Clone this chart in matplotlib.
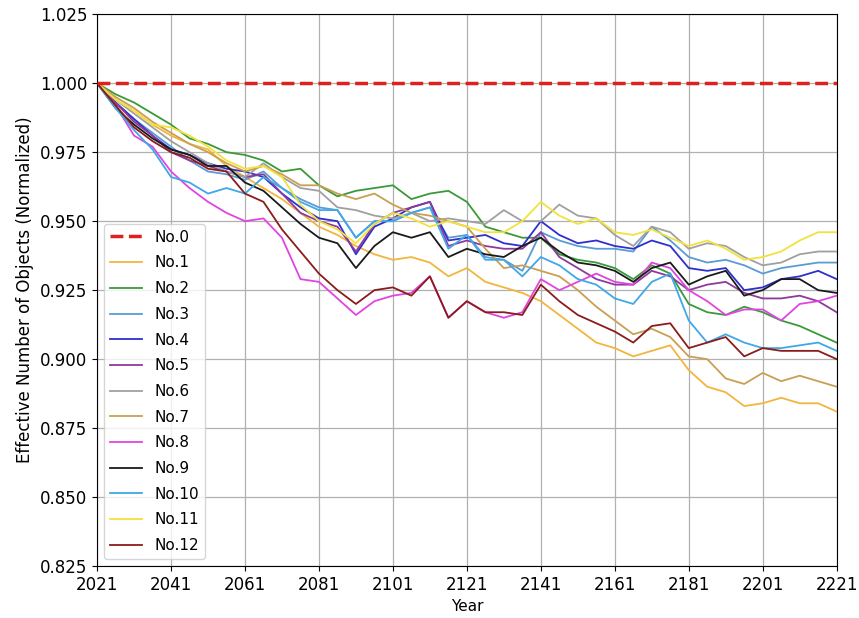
import numpy as np
import matplotlib.pyplot as plt
import matplotlib.ticker as mticker

years = list(range(2021, 2222, 5))

no0 = [1.0] * len(years)
no1 = [1.000, 0.994, 0.990, 0.985, 0.981, 0.978, 0.976, 0.970, 0.966, 0.962, 0.958, 0.953, 0.948, 0.945,
       0.941, 0.938, 0.936, 0.937, 0.935, 0.930, 0.933, 0.928, 0.926, 0.924, 0.921, 0.916, 0.911, 0.906,
       0.904, 0.901, 0.903, 0.905, 0.896, 0.890, 0.888, 0.883, 0.884, 0.886, 0.884, 0.884, 0.881]
no2 = [1.000, 0.996, 0.993, 0.989, 0.985, 0.980, 0.978, 0.975, 0.974, 0.972, 0.968, 0.969, 0.963, 0.959,
       0.961, 0.962, 0.963, 0.958, 0.960, 0.961, 0.957, 0.948, 0.946, 0.944, 0.944, 0.938, 0.936, 0.935,
       0.933, 0.929, 0.934, 0.931, 0.920, 0.917, 0.916, 0.919, 0.917, 0.914, 0.912, 0.909, 0.906]
no3 = [1.000, 0.993, 0.987, 0.982, 0.977, 0.972, 0.968, 0.967, 0.965, 0.968, 0.962, 0.958, 0.955, 0.954,
       0.944, 0.950, 0.950, 0.953, 0.955, 0.944, 0.945, 0.937, 0.936, 0.932, 0.946, 0.943, 0.941, 0.940,
       0.940, 0.939, 0.948, 0.943, 0.937, 0.935, 0.936, 0.934, 0.931, 0.933, 0.934, 0.935, 0.935]
no4 = [1.000, 0.993, 0.987, 0.981, 0.976, 0.974, 0.971, 0.969, 0.968, 0.966, 0.960, 0.955, 0.951, 0.950,
       0.938, 0.948, 0.951, 0.955, 0.957, 0.943, 0.944, 0.945, 0.942, 0.941, 0.950, 0.945, 0.942, 0.943,
       0.941, 0.940, 0.943, 0.941, 0.933, 0.932, 0.933, 0.925, 0.926, 0.929, 0.930, 0.932, 0.929]
no5 = [1.000, 0.993, 0.986, 0.981, 0.975, 0.972, 0.970, 0.968, 0.966, 0.967, 0.960, 0.953, 0.950, 0.948,
       0.939, 0.949, 0.953, 0.955, 0.957, 0.941, 0.943, 0.941, 0.940, 0.940, 0.946, 0.937, 0.933, 0.929,
       0.927, 0.927, 0.932, 0.930, 0.925, 0.927, 0.928, 0.924, 0.922, 0.922, 0.923, 0.921, 0.917]
no6 = [1.000, 0.994, 0.989, 0.984, 0.979, 0.975, 0.971, 0.968, 0.966, 0.971, 0.966, 0.962, 0.961, 0.955,
       0.954, 0.952, 0.951, 0.953, 0.950, 0.951, 0.950, 0.949, 0.954, 0.950, 0.950, 0.956, 0.952, 0.951,
       0.945, 0.941, 0.948, 0.946, 0.940, 0.942, 0.941, 0.937, 0.934, 0.935, 0.938, 0.939, 0.939]
no7 = [1.000, 0.995, 0.991, 0.986, 0.982, 0.978, 0.975, 0.971, 0.968, 0.970, 0.967, 0.963, 0.963, 0.960,
       0.958, 0.960, 0.956, 0.953, 0.952, 0.950, 0.948, 0.940, 0.933, 0.934, 0.932, 0.930, 0.925, 0.919,
       0.914, 0.909, 0.911, 0.908, 0.901, 0.900, 0.893, 0.891, 0.895, 0.892, 0.894, 0.892, 0.890]
no8 = [1.000, 0.992, 0.981, 0.977, 0.968, 0.962, 0.957, 0.953, 0.950, 0.951, 0.944, 0.929, 0.928, 0.922,
       0.916, 0.921, 0.923, 0.924, 0.930, 0.915, 0.921, 0.917, 0.915, 0.917, 0.929, 0.925, 0.928, 0.931,
       0.928, 0.927, 0.935, 0.933, 0.925, 0.921, 0.916, 0.918, 0.918, 0.914, 0.920, 0.921, 0.923]
no9 = [1.000, 0.991, 0.985, 0.980, 0.976, 0.974, 0.970, 0.970, 0.964, 0.961, 0.955, 0.949, 0.944, 0.942,
       0.933, 0.941, 0.946, 0.944, 0.946, 0.937, 0.940, 0.938, 0.937, 0.941, 0.944, 0.939, 0.935, 0.934,
       0.932, 0.928, 0.933, 0.935, 0.927, 0.930, 0.932, 0.923, 0.925, 0.929, 0.929, 0.925, 0.924]
no10 = [1.000, 0.991, 0.983, 0.976, 0.966, 0.964, 0.960, 0.962, 0.960, 0.966, 0.962, 0.957, 0.954, 0.954,
        0.944, 0.950, 0.950, 0.953, 0.955, 0.940, 0.945, 0.936, 0.936, 0.930, 0.937, 0.934, 0.929, 0.927,
        0.922, 0.920, 0.928, 0.931, 0.914, 0.906, 0.909, 0.906, 0.904, 0.904, 0.905, 0.906, 0.903]
no11 = [1.000, 0.994, 0.990, 0.985, 0.984, 0.981, 0.977, 0.972, 0.969, 0.970, 0.966, 0.956, 0.950, 0.947,
        0.942, 0.949, 0.953, 0.951, 0.948, 0.950, 0.948, 0.946, 0.946, 0.950, 0.957, 0.952, 0.949, 0.951,
        0.946, 0.945, 0.947, 0.944, 0.941, 0.943, 0.940, 0.936, 0.937, 0.939, 0.943, 0.946, 0.946]
no12 = [1.000, 0.992, 0.984, 0.979, 0.975, 0.973, 0.969, 0.968, 0.960, 0.957, 0.947, 0.939, 0.931, 0.925,
        0.920, 0.925, 0.926, 0.923, 0.930, 0.915, 0.921, 0.917, 0.917, 0.916, 0.927, 0.921, 0.916, 0.913,
        0.910, 0.906, 0.912, 0.913, 0.904, 0.906, 0.908, 0.901, 0.904, 0.903, 0.903, 0.903, 0.900]

series = [no1, no2, no3, no4, no5, no6, no7, no8, no9, no10, no11, no12]
colors = ["#f2b53e", "#3a9a3a", "#5b9bd5", "#2f2fcf", "#8e3a9a", "#a0a0a0",
          "#c9a052", "#e244e2", "#1a1a1a", "#3ea8e8", "#f2e23c", "#8b1c1c"]

fig, ax = plt.subplots(figsize=(8.59, 6.18), dpi=100)
fig.subplots_adjust(left=0.113, right=0.974, bottom=0.084, top=0.977)

ax.plot(years, no0, color="#dd2020", linestyle="--", linewidth=2.5, label="No.0", zorder=3)
for i, (s, c) in enumerate(zip(series, colors)):
    ax.plot(years, s, color=c, linewidth=1.3, label=f"No.{i + 1}")

ax.set_xlim(2021, 2221)
ax.set_ylim(0.825, 1.025)
ax.set_xticks(range(2021, 2222, 20))
ax.yaxis.set_major_locator(mticker.MultipleLocator(0.025))
ax.yaxis.set_major_formatter(mticker.FormatStrFormatter("%.3f"))
ax.tick_params(labelsize=12)
ax.grid(True, color="#b0b0b0", linewidth=0.9)

ax.set_xlabel("Year", fontsize=11)
ax.set_ylabel("Effective Number of Objects (Normalized)", fontsize=12)
ax.legend(loc="lower left", fontsize=11, labelspacing=0.7, handlelength=2.1,
          handletextpad=0.8, borderaxespad=0.45)

plt.savefig("out.png")
